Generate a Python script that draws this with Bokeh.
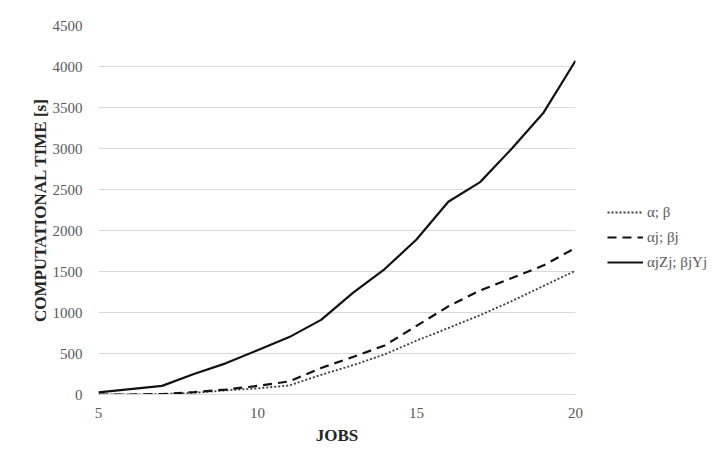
from bokeh.plotting import figure
from bokeh.models import Legend, LegendItem, FixedTicker, Range1d
from bokeh.embed import file_html
from bokeh.resources import INLINE

jobs = [5, 6, 7, 8, 9, 10, 11, 12, 13, 14, 15, 16, 17, 18, 19, 20]
alpha_beta = [0, 0, 5, 20, 50, 75, 110, 240, 357, 490, 657, 810, 968, 1140, 1325, 1510]
alphaj_betaj = [0, 0, 5, 30, 60, 105, 160, 323, 458, 598, 837, 1075, 1268, 1420, 1575, 1788]
alphajzj_betajyj = [25, 65, 105, 250, 380, 540, 700, 910, 1240, 1530, 1890, 2350, 2590, 3000, 3440, 4070]

series_labels = ["\u03b1; \u03b2", "\u03b1j; \u03b2j", "\u03b1jZj; \u03b2jYj"]
x_ticks = [5, 10, 15, 20]
y_ticks = [0, 500, 1000, 1500, 2000, 2500, 3000, 3500, 4000, 4500]

FONT = "Liberation Serif"

p = figure(frame_width=477, frame_height=369, output_backend="svg", toolbar_location=None,
           x_range=Range1d(5, 20), y_range=Range1d(0, 4500),
           min_border_left=98, min_border_right=148, min_border_top=25, min_border_bottom=63)
p.outline_line_color = None
p.background_fill_color = "white"
p.border_fill_color = "white"

r1 = p.line(jobs, alpha_beta, line_color="#3a3a3a", line_width=1.8, line_dash="2 2")
r2 = p.line(jobs, alphaj_betaj, line_color="#111111", line_width=2.2, line_dash="9 6")
r3 = p.line(jobs, alphajzj_betajyj, line_color="#111111", line_width=2.2)

p.xaxis.ticker = FixedTicker(ticks=x_ticks)
p.yaxis.ticker = FixedTicker(ticks=y_ticks)
p.xgrid.grid_line_color = None
p.ygrid.grid_line_color = "#d9d9d9"
p.ygrid.grid_line_width = 1

for ax in (p.xaxis[0], p.yaxis[0]):
    ax.major_tick_line_color = None
    ax.minor_tick_line_color = None
    ax.major_label_text_font = FONT
    ax.major_label_text_font_size = "15px"
    ax.major_label_text_color = "#595959"
    ax.axis_label_text_font = FONT
    ax.axis_label_text_font_size = "17px"
    ax.axis_label_text_font_style = "bold"
    ax.axis_label_text_color = "#262626"

p.xaxis.axis_line_color = "#d9d9d9"
p.yaxis.axis_line_color = None
p.xaxis.axis_label = "JOBS"
p.yaxis.axis_label = "COMPUTATIONAL TIME [s]"
p.xaxis.major_label_standoff = 7
p.yaxis.major_label_standoff = 10
p.xaxis.axis_label_standoff = 5
p.yaxis.axis_label_standoff = 0

legend = Legend(items=[LegendItem(label=series_labels[0], renderers=[r1]),
                       LegendItem(label=series_labels[1], renderers=[r2]),
                       LegendItem(label=series_labels[2], renderers=[r3])],
                location=(32, 122))
legend.border_line_color = None
legend.background_fill_alpha = 0
legend.padding = 0
legend.margin = 0
legend.spacing = 5
legend.glyph_width = 36
legend.glyph_height = 20
legend.label_standoff = 4
legend.label_text_font = FONT
legend.label_text_font_size = "15px"
legend.label_text_color = "#595959"
p.add_layout(legend, "right")

open("out.html", "w").write(file_html(p, INLINE))
